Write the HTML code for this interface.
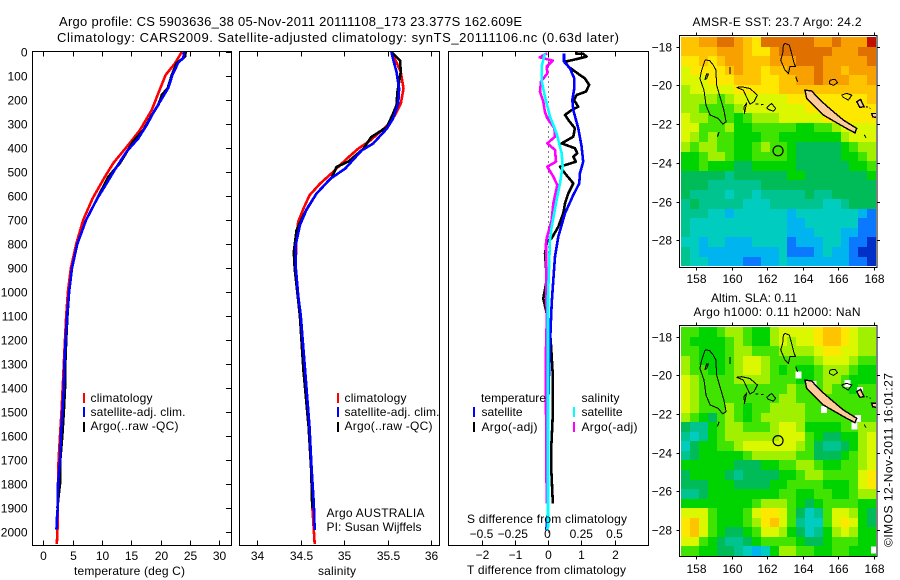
<!DOCTYPE html>
<html lang="en">
<head>
<meta charset="utf-8">
<title>Argo profile CS 5903636_38</title>
<style>
html,body{margin:0;padding:0;background:#fff;}
#chart{display:block;width:900px;height:580px;}
text{font-family:"Liberation Sans",sans-serif;font-size:12px;fill:#000;}
.ttl{font-size:13px;}
</style>
</head>
<body>
<svg id="chart" xmlns="http://www.w3.org/2000/svg" width="900" height="580" viewBox="0 0 900 580">
<defs>
<clipPath id="clip-sst"><rect x="681" y="37" width="195" height="229"/></clipPath>
<clipPath id="clip-sla"><rect x="681" y="327" width="195" height="229"/></clipPath>
</defs>
<rect width="900" height="580" fill="#fff"/>
<text class="ttl" x="59" y="26" textLength="463" lengthAdjust="spacing">Argo profile: CS 5903636_38 05-Nov-2011 20111108_173 23.377S 162.609E</text>
<text class="ttl" x="57" y="42" textLength="562" lengthAdjust="spacing">Climatology: CARS2009. Satellite-adjusted climatology: synTS_20111106.nc (0.63d later)</text>

<g id="panel-t"></g>
<g id="panel-s"></g>
<g id="panel-d"></g>
<g id="map-sst"></g>
<g id="map-sla"></g>

<text x="74" y="575" textLength="111" lengthAdjust="spacing">temperature (deg C)</text>
<text x="318" y="575" textLength="38" lengthAdjust="spacing">salinity</text>
<text x="467" y="574" textLength="159" lengthAdjust="spacing">T difference from climatology</text>
<text x="467" y="523" textLength="160" lengthAdjust="spacing">S difference from climatology</text>

<g>
<rect x="83" y="393" width="2" height="10" fill="#f00"/>
<rect x="83" y="407" width="2" height="10" fill="#00f"/>
<rect x="83" y="422" width="2" height="10" fill="#000"/>
<text x="90.5" y="402" textLength="62" lengthAdjust="spacing">climatology</text>
<text x="90.5" y="416" textLength="95" lengthAdjust="spacing">satellite-adj. clim.</text>
<text x="90.5" y="430" textLength="88" lengthAdjust="spacing">Argo(..raw -QC)</text>
</g>
<g>
<rect x="337" y="393" width="2" height="10" fill="#f00"/>
<rect x="337" y="407" width="2" height="10" fill="#00f"/>
<rect x="337" y="422" width="2" height="10" fill="#000"/>
<text x="344.5" y="402" textLength="62" lengthAdjust="spacing">climatology</text>
<text x="344.5" y="416" textLength="95" lengthAdjust="spacing">satellite-adj. clim.</text>
<text x="344.5" y="430" textLength="88" lengthAdjust="spacing">Argo(..raw -QC)</text>
<text x="326.5" y="517" textLength="98" lengthAdjust="spacing">Argo AUSTRALIA</text>
<text x="326.5" y="531" textLength="95" lengthAdjust="spacing">PI: Susan Wijffels</text>
</g>
<g>
<text x="481" y="402" textLength="65" lengthAdjust="spacing">temperature</text>
<rect x="473" y="407" width="2" height="10" fill="#00f"/>
<text x="481.5" y="416" textLength="41" lengthAdjust="spacing">satellite</text>
<rect x="473" y="422" width="2" height="10" fill="#000"/>
<text x="481.5" y="431" textLength="56" lengthAdjust="spacing">Argo(-adj)</text>
<text x="581.5" y="402" textLength="38" lengthAdjust="spacing">salinity</text>
<rect x="573" y="407" width="2" height="10" fill="#0ff"/>
<text x="581.5" y="416" textLength="41" lengthAdjust="spacing">satellite</text>
<rect x="573" y="422" width="2" height="10" fill="#f0f"/>
<text x="581.5" y="431" textLength="56" lengthAdjust="spacing">Argo(-adj)</text>
</g>

<text class="map-title" x="692.5" y="26" textLength="169" lengthAdjust="spacing">AMSR-E SST: 23.7 Argo: 24.2</text>
<text x="711" y="302" textLength="86" lengthAdjust="spacing">Altim. SLA: 0.11</text>
<text x="693.5" y="316" textLength="167" lengthAdjust="spacing">Argo h1000: 0.11 h2000: NaN</text>
<text transform="translate(892.5,547) rotate(-90)" textLength="174" lengthAdjust="spacing">©IMOS 12-Nov-2011 16:01:27</text>
</svg>

<script>
// ---------- axis tick labels ----------
const depthTicks = [0,100,200,300,400,500,600,700,800,900,1000,1100,1200,1300,1400,1500,1600,1700,1800,1900,2000];
const tempTicks = [0,5,10,15,20,25,30];
const salTicks = [34,34.5,35,35.5,36];
const salTickLabels = ['34','34.5','35','35.5','36'];
const tDiffTicks = [-2,-1,0,1,2];
const tDiffTickLabels = ['\u22122','\u22121','0','1','2'];
const sDiffTicks = [-0.5,-0.25,0,0.25,0.5];
const sDiffTickLabels = ['\u22120.5','\u22120.25','0','0.25','0.5'];
const lonTicks = [158,160,162,164,166,168];
const latTicks = [-18,-20,-22,-24,-26,-28];

// ---------- temperature profiles ----------
const tClimDepth = [0,47,96,172,242,325,387,463,520,610,700,800,900,1000,1100,1200,1300,1400,1500,1600,1700,1800,1900,1950,2000,2050];
const tClimValue = [23.6,22.45,20.85,19.6,18.47,16.48,14.49,11.93,10.5,8.41,6.8,5.6,4.7,4.2,3.9,3.7,3.5,3.3,3.1,2.85,2.6,2.5,2.45,2.45,2.4,2.3];
const tSatDepth = [0,25,45,96,150,195,242,305,360,415,490,547,610,700,800,900,1000,1100,1200,1300,1400,1500,1600,1700,1800,1900,1950,1990];
const tSatValue = [24.0,23.87,23,22,21.3,20.2,19,17.6,16.2,14.2,12.2,10.8,9.2,7.3,5.8,4.9,4.4,4.05,3.8,3.6,3.5,3.25,3,2.85,2.5,2.45,2.3,2.25];
const tArgoDepth = [0,19,47,96,151,179,221,263,325,373,463,520,610,700,800,900,1000,1100,1200,1300,1400,1500,1600,1700,1800,1850,1900];
const tArgoValue = [24.27,24.15,22.7,21.9,21.2,20.2,19.6,18.5,17.05,15.3,13.07,11.08,9.2,7.3,5.8,4.9,4.4,4.1,3.9,3.75,3.7,3.5,3.24,2.9,2.85,2.6,2.4];

// ---------- salinity profiles ----------
const sClimDepth = [0,28,83,153,215,264,308,368,403,444,500,549,597,653,708,764,900,1100,1325,1561,1742,1880,2050];
const sClimValue = [35.54,35.58,35.65,35.68,35.65,35.58,35.49,35.3,35.16,35.03,34.87,34.72,34.6,34.53,34.47,34.45,34.44,34.49,34.54,34.59,34.62,34.63,34.66];
const sSatDepth = [0,28,83,153,215,278,319,382,410,486,528,590,653,722,806,889,1014,1100,1325,1561,1742,1880,1992];
const sSatValue = [35.54,35.56,35.6,35.63,35.62,35.56,35.49,35.33,35.2,35.01,34.84,34.68,34.57,34.49,34.44,34.44,34.47,34.5,34.55,34.6,34.625,34.65,34.66];
const sArgoDepth = [0,35,83,167,222,257,313,354,403,456,479,521,590,667,743,833,903,1000,1100,1325,1561,1742,1880,1900];
const sArgoValue = [35.54,35.64,35.65,35.61,35.6,35.56,35.49,35.31,35.22,35.05,34.91,34.86,34.68,34.55,34.45,34.42,34.43,34.46,34.49,34.53,34.59,34.62,34.63,34.63];

// ---------- difference profiles ----------
const dtArgoDepth = [6,8,19,33,40,61,96,110,137,165,179,200,228,242,262,283,318,353,381,401,422,436,457,478,506,547,589,631,672,728,776,790,839,894,950,1027,1089,1103,1200,1339,1519,1644,1742,1867,1881];
const dtArgoValue = [0.81,1.06,1.16,0.76,0.51,0.61,0.96,1.11,1.24,1.14,0.86,0.78,0.91,0.71,0.51,0.61,0.81,0.76,0.41,0.81,0.88,0.76,0.84,0.36,0.51,0.76,0.61,0.51,0.46,0.31,0.11,-0.03,-0.09,-0.06,-0.04,-0.14,-0.04,0,0.08,0.14,0.14,0.1,0.1,0.14,0.14];
const dtSatDepth = [6,40,68,110,151,200,242,318,394,457,506,547,596,672,769,853,950,1047,1144,1297,1450,1894,1992];
const dtSatValue = [0.48,0.48,0.66,0.79,0.79,0.73,0.76,0.91,1.01,1.06,0.96,0.94,0.76,0.51,0.31,0.21,0.16,0.11,0.08,0.04,0.01,0.01,-0.05];
const dsSatDepth = [6,61,117,186,269,339,422,478,547,617,728,783,1019,1575,1978,1992];
const dsSatValue = [-0.023,-0.048,-0.048,-0.023,0.015,0.065,0.103,0.11,0.09,0.065,0.028,0.015,0,0,0,-0.01];
const dsArgoDepth = [6,22,36,61,89,123,165,207,249,276,318,353,381,408,457,478,519,554,631,700,776,797,1130,1297,1478,1881];
const dsArgoValue = [-0.005,-0.063,0.035,-0.01,-0.005,-0.053,-0.06,-0.035,-0.023,-0.005,0.048,0.053,-0.005,0.053,0.06,-0.005,0.04,0.07,0.04,0.028,-0.01,-0.015,-0.01,-0.018,-0.015,-0.01];

// ---------- map cells: colour level per half-degree cell (north to south) ----------
const sstCells = [
[11,11,12,12,13,13,12,11,10,13,13,13,13,13,13,12,12,13,12,12,12,14],
[11,11,11,11,12,12,12,11,10,10,12,13,13,13,13,13,13,12,12,12,13,13],
[10,10,11,10,11,12,12,11,11,11,12,12,12,13,13,13,12,12,12,12,12,13],
[9,10,10,10,10,11,12,11,11,10,11,11,12,12,12,13,12,12,11,12,12,12],
[9,9,9,10,10,10,11,11,11,10,10,11,11,12,12,13,12,12,12,11,11,12],
[8,9,9,9,9,9,10,10,10,10,10,11,11,11,11,11,11,11,11,11,11,11],
[8,8,8,8,7,8,9,9,9,9,9,9,10,10,10,10,10,10,10,10,10,11],
[8,8,7,7,7,7,8,9,9,9,9,9,9,9,10,10,10,10,10,10,10,10],
[9,8,8,7,7,7,6,7,8,8,8,9,9,9,9,9,10,10,10,10,10,10],
[9,9,7,7,7,8,6,6,7,7,7,7,7,6,6,7,7,8,9,9,9,9],
[9,8,7,8,7,7,6,6,6,7,7,6,6,6,6,6,6,6,8,9,9,9],
[8,7,8,8,7,7,6,6,7,8,7,7,6,5,5,5,5,5,6,7,8,8],
[6,6,7,8,8,7,6,6,7,7,7,7,6,5,5,5,5,5,6,6,7,8],
[6,6,7,6,6,6,5,5,6,6,6,6,6,5,5,5,5,5,5,6,6,7],
[5,5,5,5,5,4,5,5,5,5,5,5,6,6,5,5,5,5,5,5,5,6],
[5,5,5,4,4,4,4,4,4,5,5,5,5,5,5,5,5,5,5,5,5,5],
[5,4,4,4,4,3,4,4,3,4,4,4,4,4,5,4,4,5,5,5,5,5],
[4,5,4,4,4,4,4,3,3,3,4,4,4,4,4,4,3,3,4,5,5,5],
[4,4,4,3,3,2,3,3,3,3,3,3,2,3,3,3,3,3,3,3,2,1],
[4,3,3,3,3,3,3,3,3,3,3,3,2,2,3,3,3,3,3,3,1,1],
[4,3,3,3,3,3,3,3,3,3,3,3,2,2,2,3,3,3,2,2,1,1],
[3,3,2,3,3,2,2,2,3,3,3,3,1,2,2,2,3,3,2,1,1,0],
[4,3,2,2,2,2,2,2,2,2,2,3,1,1,1,2,3,2,2,1,0,0],
[4,3,3,2,2,2,2,1,1,2,2,3,2,2,2,2,2,2,2,1,1,0]];
const slaCells = [
[7,7,6,6,7,8,8,7,6,6,8,9,9,9,9,10,11,11,10,9,8,8],
[7,6,6,6,6,7,8,7,6,6,8,9,8,9,9,10,11,11,10,9,8,8],
[7,7,6,6,6,7,8,8,7,7,7,8,8,8,8,9,10,10,9,9,8,8],
[8,7,6,6,6,7,8,9,9,8,7,7,7,7,7,8,9,9,9,8,7,7],
[8,7,7,6,6,7,8,9,9,8,7,6,7,6,6,7,8,8,8,7,6,6],
[9,8,7,7,7,7,8,8,8,8,7,7,7,6,6,7,8,8,7,6,6,6],
[9,8,7,7,7,7,7,7,7,7,7,7,8,7,7,7,8,7,7,6,7,7],
[9,8,7,7,7,7,7,7,7,7,7,8,8,7,7,7,7,7,7,7,7,7],
[9,8,7,7,7,8,7,6,7,7,8,8,8,8,7,7,7,7,7,7,7,7],
[8,7,6,5,7,8,7,6,7,8,8,8,8,8,7,7,7,7,7,7,7,7],
[5,4,4,6,7,8,8,7,7,7,8,9,9,8,6,6,6,6,7,7,8,8],
[4,3,4,6,7,8,8,8,8,8,8,9,9,9,7,6,5,5,6,6,8,9],
[3,5,6,6,7,7,8,9,9,9,9,9,9,8,7,5,4,4,5,6,8,9],
[4,5,6,6,6,6,6,7,8,8,8,8,8,7,7,5,5,5,6,7,8,9],
[6,6,6,6,6,6,5,5,5,6,6,7,7,8,8,7,6,6,7,7,8,9],
[5,6,6,6,6,5,4,5,5,5,5,6,6,7,8,8,7,7,7,7,9,10],
[5,5,5,6,6,6,5,5,5,5,6,6,7,7,7,7,6,6,6,7,9,10],
[4,4,5,6,6,6,6,6,6,6,6,7,7,6,6,7,7,6,6,7,8,8],
[6,6,6,6,6,6,6,6,7,8,8,8,7,6,5,6,7,7,7,7,6,6],
[9,9,9,7,6,6,6,7,9,10,10,9,7,5,3,4,7,9,9,8,6,5],
[10,11,9,7,6,6,6,7,8,10,11,9,7,4,3,3,7,9,10,9,6,5],
[10,11,9,7,6,5,5,6,7,9,9,8,6,5,3,4,6,8,9,8,6,6],
[9,9,7,6,5,4,4,5,6,7,7,7,7,6,5,5,6,7,7,7,6,6],
[7,7,6,6,5,5,4,3,2,3,6,8,8,7,7,6,6,7,7,6,6,6]];
const slaMissingLon = [163.75,164.6,165.2,166.9,167.1,166.5,167.2,168.0];
const slaMissingLat = [-19.95,-20.45,-21.75,-22.6,-22.2,-20.4,-20.75,-29.0];

// ---------- geography (lon,lat pairs) ----------
const reefOutlines = [
[[158.51,-18.69],[158.75,-18.71],[158.97,-18.95],[159.12,-19.21],[159.16,-19.98],[159.35,-20.59],[159.57,-21.28],[159.69,-21.88],[159.5,-22],[159.25,-21.71],[158.79,-21.53],[158.56,-21.02],[158.45,-20.24],[158.22,-19.64],[158.32,-19.21],[158.51,-18.69]],
[[158.6,-19.4],[158.7,-19.4],[158.6,-19.65],[158.5,-19.7],[158.6,-19.4]],
[[163,-17.83],[163.24,-17.91],[163.37,-18.34],[163.51,-18.86],[163.6,-19.03],[163.28,-19.03],[163.19,-19.38],[163,-19.21],[162.76,-18.69],[162.87,-18.34],[162.91,-17.91],[163,-17.83]],
[[160.28,-20.1],[160.57,-20.07],[161.03,-20.16],[161.45,-20.5],[161.26,-20.84],[161.03,-20.97],[160.85,-20.62],[160.66,-20.24],[160.28,-20.1]],
[[160.7,-21.1],[160.85,-20.9],[160.72,-21.45],[160.7,-21.1]],
[[161.97,-21.14],[162.25,-20.93],[162.48,-21.19],[162.34,-21.33],[162.06,-21.24],[161.97,-21.14]],
[[165.53,-19.72],[165.81,-19.69],[165.96,-19.86],[165.71,-20],[165.49,-19.9],[165.53,-19.72]],
[[166.18,-20.5],[166.46,-20.41],[166.75,-20.5],[166.56,-20.76],[166.28,-20.62],[166.18,-20.5]],
[[161.35,-20.97],[161.5,-20.95]],
[[161.65,-21],[161.78,-20.98]],
[[163.6,-19.55],[163.71,-19.81]],
[[159.9,-19.05],[159.9,-19.4]],
[[159.3,-22.4],[159.2,-22.65]],
[[167.45,-22.55],[167.55,-22.7]],
[[167.55,-21.1],[167.65,-21.12]],
[[167.75,-21.15],[167.8,-21.2]]];
const landPolygons = [
[[164.12,-20.24],[164.5,-20.29],[164.97,-20.76],[165.62,-21.28],[166.28,-21.79],[167.03,-22.22],[166.93,-22.45],[166.46,-22.22],[165.81,-21.88],[165.15,-21.53],[164.59,-21.02],[164.22,-20.67]],
[[167.03,-20.84],[167.25,-20.72],[167.44,-21.1],[167.21,-21.14]],
[[167.87,-21.45],[168.15,-21.45],[168.15,-21.66],[167.93,-21.62]]];
const argoLon = [162.609];
const argoLat = [-23.377];

// ---------- styling constants ----------
const levelColors = ['#0030c8','#0a78ff','#00b4f0','#00ccc0','#00c490','#00bc58','#00d400','#40e400','#a0f000','#dcf800','#ffe800','#ffc400','#f8a000','#e07000','#c01000'];
const NS = 'http://www.w3.org/2000/svg';
function mk(parent, tag){ const e = document.createElementNS(NS, tag); parent.appendChild(e); return e; }
function setAll(e, props){ for (const k in props) e.setAttribute(k, props[k]); }

// ---------- axis functions ----------
const TOP = 51.5, BOT = 545.5;
const yDepth = d => 52 + 0.24 * d;
const xTemp = v => 43.3 + 5.867 * v;
const xSal = v => 257.3 + 87 * (v - 34);
const xTd = v => 548 + 33.25 * v;
const xSd = v => 548 + 133 * v;
const xLon = v => 696 + 17.8 * (v - 158);

function drawBox(g, x0, x1){
  const r = mk(g, 'rect');
  
  
  setAll(r, {x:x0, y:TOP, width:x1 - x0, height:BOT - TOP, fill:'none', stroke:'#000', 'stroke-width':1, 'shape-rendering':'crispEdges'});
}
function drawTick(g, x1, y1, x2, y2){
  const l = mk(g, 'line');
  
  
  setAll(l, {x1, y1, x2, y2, stroke:'#000', 'stroke-width':1, 'shape-rendering':'crispEdges'});
}
function drawLabel(g, x, y, str, anchor){
  const t = mk(g, 'text');
  
  
  setAll(t, {x, y, 'text-anchor':anchor});
  t.textContent = str;
}
function drawSeries(g, name, depths, values, xf, color, width){
  const p = mk(g, 'polyline');
  
  
  const pts = depths.map((d, i) => xf(values[i]).toFixed(1) + ',' + yDepth(d).toFixed(1)).join(' ');
  setAll(p, {points:pts, fill:'none', stroke:color, 'stroke-width':width, 'stroke-linejoin':'round', 'shape-rendering':'crispEdges'});
}

// ---------- temperature panel ----------
const gT = document.getElementById('panel-t');
drawSeries(gT, 'climatology-temperature-line', tClimDepth, tClimValue, xTemp, '#f00', 2.6);
drawSeries(gT, 'argo-temperature-line', tArgoDepth, tArgoValue, xTemp, '#000', 2.6);
drawSeries(gT, 'satellite-temperature-line', tSatDepth, tSatValue, xTemp, '#00f', 2.6);
drawBox(gT, 32.5, 231.5);
depthTicks.forEach(d => {
  const y = Math.round(yDepth(d)) + 0.5;
  drawTick(gT, 226, y, 231.5, y);
  drawLabel(gT, 27.5, y + 4, String(d), 'end');
});
tempTicks.forEach(v => {
  const x = Math.round(xTemp(v)) + 0.5;
  drawTick(gT, x, TOP, x, TOP + 5);
  drawTick(gT, x, BOT - 5, x, BOT);
  drawLabel(gT, x, 560, String(v), 'middle');
});

// ---------- salinity panel ----------
const gS = document.getElementById('panel-s');
drawSeries(gS, 'climatology-salinity-line', sClimDepth, sClimValue, xSal, '#f00', 2.6);
drawSeries(gS, 'argo-salinity-line', sArgoDepth, sArgoValue, xSal, '#000', 2.6);
drawSeries(gS, 'satellite-salinity-line', sSatDepth, sSatValue, xSal, '#00f', 2.6);
drawBox(gS, 239.5, 439.5);
salTicks.forEach((v, i) => {
  const x = Math.round(xSal(v)) + 0.5;
  drawTick(gS, x, TOP, x, TOP + 5);
  drawTick(gS, x, BOT - 5, x, BOT);
  drawLabel(gS, x, 560, salTickLabels[i], 'middle');
});

// ---------- difference panel ----------
const gD = document.getElementById('panel-d');
const zero = mk(gD, 'line');


setAll(zero, {x1:548.5, y1:TOP, x2:548.5, y2:BOT, stroke:'#000', 'stroke-width':1, 'stroke-dasharray':'1 4', 'shape-rendering':'crispEdges'});
drawSeries(gD, 'argo-temperature-difference-line', dtArgoDepth, dtArgoValue, xTd, '#000', 2.6);
drawSeries(gD, 'satellite-temperature-difference-line', dtSatDepth, dtSatValue, xTd, '#00f', 2.6);
drawSeries(gD, 'argo-salinity-difference-line', dsArgoDepth, dsArgoValue, xSd, '#f0f', 2.6);
drawSeries(gD, 'satellite-salinity-difference-line', dsSatDepth, dsSatValue, xSd, '#0ff', 2.6);
drawBox(gD, 448.5, 648.5);
tDiffTicks.forEach((v, i) => {
  const x = Math.round(xTd(v)) + 0.5;
  drawTick(gD, x, TOP, x, TOP + 5);
  drawTick(gD, x, BOT - 5, x, BOT);
  drawLabel(gD, x, 559, tDiffTickLabels[i], 'middle');
});
sDiffTicks.forEach((v, i) => {
  drawLabel(gD, xSd(v) - (v === 0 ? 0.5 : (v === -0.25 ? 2 : 0)), 538, sDiffTickLabels[i], 'middle');
});

// ---------- maps ----------
function drawMap(gid, cells, yLat, top, bottom, labelBase, clipId, isSla){
  const g = document.getElementById(gid);
  const lonStart = 157.16, lonStep = 0.498, latStart = -17.5, latStep = 0.493;
  cells.forEach((row, j) => {
    row.forEach((lv, i) => {
      const c = mk(g, 'rect');
      
      
      const x0 = Math.round(xLon(lonStart + i * lonStep));
      const x1 = Math.round(xLon(lonStart + (i + 1) * lonStep));
      const y0 = Math.round(yLat(latStart - j * latStep));
      const y1 = Math.round(yLat(latStart - (j + 1) * latStep));
      const idx = Math.max(0, Math.min(levelColors.length - 1, Math.round(lv)));
      setAll(c, {x:x0, y:y0, width:x1 - x0, height:y1 - y0, fill:levelColors[idx], 'shape-rendering':'crispEdges'});
    });
  });
  const ov = mk(g, 'g');
  
  
  ov.setAttribute('clip-path', 'url(#' + clipId + ')');
  if (isSla) {
    slaMissingLon.forEach((lo, i) => {
      const w = mk(ov, 'rect');
      
      
      setAll(w, {x:xLon(lo) - 3, y:yLat(slaMissingLat[i]) - 3, width:6, height:7, fill:'#fff', 'shape-rendering':'crispEdges'});
    });
  }
  const toPts = arr => arr.map(p => xLon(p[0]).toFixed(1) + ',' + yLat(p[1]).toFixed(1)).join(' ');
  landPolygons.forEach(poly => {
    const p = mk(ov, 'polygon');
    
    
    setAll(p, {points:toPts(poly), fill:'#ffcc99', stroke:'#000', 'stroke-width':1.4, 'shape-rendering':'crispEdges'});
  });
  reefOutlines.forEach(line => {
    const p = mk(ov, 'polyline');
    
    
    setAll(p, {points:toPts(line), fill:'none', stroke:'#000', 'stroke-width':1, 'stroke-linejoin':'round', 'shape-rendering':'crispEdges'});
  });
  argoLon.forEach((lo, i) => {
    const m = mk(ov, 'circle');
    
    
    setAll(m, {cx:xLon(lo), cy:yLat(argoLat[i]), r:5, fill:'none', stroke:'#000', 'stroke-width':1.2});
  });
  const f = mk(g, 'rect');
  
  
  setAll(f, {x:679.5, y:top, width:197.5, height:bottom - top, fill:'none', stroke:'#000', 'stroke-width':1, 'shape-rendering':'crispEdges'});
  lonTicks.forEach(v => {
    const x = Math.round(xLon(v)) + 0.5;
    drawTick(g, x, top - 3, x, top);
    drawTick(g, x, bottom, x, bottom + 3);
    drawLabel(g, x, labelBase, String(v), 'middle');
  });
  latTicks.forEach(v => {
    const y = Math.round(yLat(v)) + 0.5;
    drawTick(g, 676.5, y, 679.5, y);
    drawTick(g, 877, y, 880, y);
    drawLabel(g, 672, y + 4, '\u2212' + Math.abs(v), 'end');
  });
}
drawMap('map-sst', sstCells, v => 46.7 + 19.36 * (-18 - v), 35.5, 267.5, 283, 'clip-sst', false);
drawMap('map-sla', slaCells, v => 336.7 + 19.33 * (-18 - v), 325.5, 556.5, 573, 'clip-sla', true);
</script>
</body>
</html>
